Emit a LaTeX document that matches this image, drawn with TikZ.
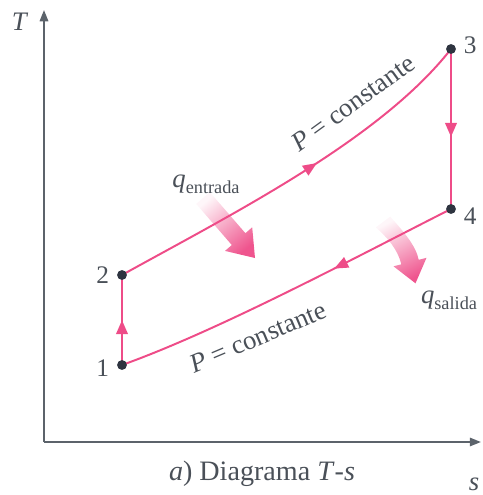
\documentclass[tikz,border=0pt]{standalone}
\usepackage{fontspec}
\setmainfont{Liberation Serif}
\usetikzlibrary{arrows.meta, positioning, decorations.markings}
\definecolor{cyclePink}{HTML}{EE4C88}
\definecolor{statePt}{HTML}{2E3440}
\definecolor{axisGray}{HTML}{5C636B}
\definecolor{labelGray}{HTML}{4A5058}

\begin{document}
\begin{tikzpicture}[x=0.025cm, y=-0.025cm,
    proc/.style={draw=cyclePink, line width=1.4pt},
    midarrow/.style={postaction={decorate}, decoration={markings,
        mark=at position #1 with {\arrow{Triangle[width=8pt,length=10pt,color=cyclePink]}}}},
    state/.style={circle, fill=statePt, inner sep=0pt, minimum size=7pt},
    num/.style={font=\fontsize{18}{20}\selectfont, text=labelGray},
    lbl/.style={font=\fontsize{19}{22}\selectfont, text=labelGray},
    heat/.style={top color=cyclePink!5, bottom color=cyclePink!95, draw=none},
  ]
    \useasboundingbox (0,0) rectangle (482,495);

    % axes
    \coordinate (o) at (44,442);
    \coordinate (ytop) at (44,10);
    \coordinate (xend) at (481,442);
    \draw[axisGray, line width=1.3pt, -{Triangle[width=6pt,length=8pt]}] (o) -- (ytop);
    \draw[axisGray, line width=1.3pt, -{Triangle[width=6pt,length=8pt]}] (o) -- (xend);
    \node[lbl] (tlab) at (20,22) {\textit{T}};
    \node[lbl, anchor=east, inner sep=1pt] (slab) at (481,484) {\textit{s}};

    % heat arrows
    \shade[heat, shading angle=40] (196.2,203.9) -- (209.8,192.1) -- (245.4,233.2)
      -- (252.2,227.3) -- (255,258) -- (225.0,250.9) -- (231.8,245.0) -- cycle;
    \shade[heat, shading angle=28] (375.8,227.4) -- (390.2,216.6)
      .. controls (404,232) and (416,246) .. (418.7,259.8) -- (426.5,257.8)
      -- (415.5,283.3) -- (393.5,266.3) -- (401.3,264.3)
      .. controls (398,250) and (388,238) .. (375.8,227.4) -- cycle;

    % states
    \coordinate (p1) at (122,365);
    \coordinate (p2) at (122,275);
    \coordinate (p3) at (451,49);
    \coordinate (p4) at (451,209);

    % cycle
    \draw[proc, line width=2pt, midarrow=0.5] (p1) -- (p2);
    \draw[proc, midarrow=0.56] (p2) .. controls (230,215) and (380,140) .. (p3);
    \draw[proc, line width=2pt, midarrow=0.55] (p3) -- (p4);
    \draw[proc, midarrow=0.36] (p4) .. controls (360,255) and (220,330) .. (p1);

    \foreach \i in {1,...,4}
      \node[state] (d\i) at (p\i) {};

    \node[num, left=2pt of d1, yshift=-2pt] (n1) {1};
    \node[num, left=2pt of d2] (n2) {2};
    \node[num, right=2pt of d3, yshift=3pt] (n3) {3};
    \node[num, right=2pt of d4, yshift=-5pt] (n4) {4};

    % labels
    \node[lbl, rotate=36] (pup) at (353,103) {\textit{P} = constante};
    \node[lbl, rotate=23] (plow) at (258,337) {\textit{P} = constante};
    \node[lbl] (qin) at (206,184)
      {\textit{q}\raisebox{-0.5ex}{\fontsize{13}{13}\selectfont entrada}};
    \node[lbl] (qout) at (449,300)
      {\textit{q}\raisebox{-0.5ex}{\fontsize{13}{13}\selectfont salida}};

    \node[lbl, font=\fontsize{20}{24}\selectfont] (cap) at (262,474)
      {\textit{a}) Diagrama \textit{T}-\textit{s}};
  \end{tikzpicture}
\end{document}
